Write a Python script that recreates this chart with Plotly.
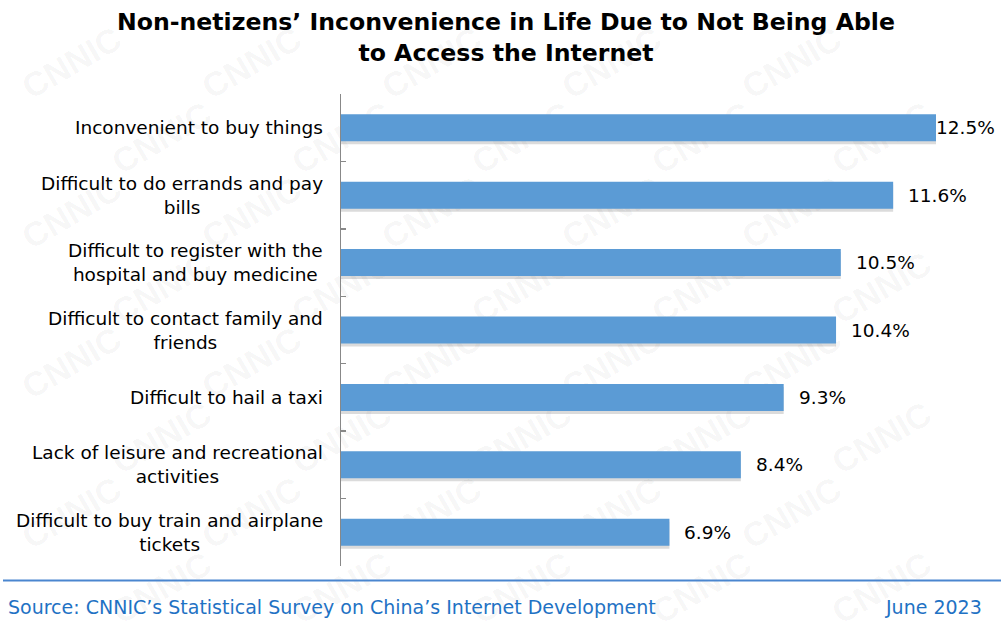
import plotly.graph_objects as go

categories = [
    "Inconvenient to buy things",
    "Difficult to do errands and pay<br>bills",
    "Difficult to register with the<br>hospital and buy medicine",
    "Difficult to contact family and<br>friends",
    "Difficult to hail a taxi",
    "Lack of leisure and recreational<br>activities",
    "Difficult to buy train and airplane<br>tickets",
]
values = [12.5, 11.6, 10.5, 10.4, 9.3, 8.4, 6.9]
value_labels = ["12.5%", "11.6%", "10.5%", "10.4%", "9.3%", "8.4%", "6.9%"]
title_text = "Non-netizens’ Inconvenience in Life Due to Not Being Able<br>to Access the Internet"
source_text = "Source: CNNIC’s Statistical Survey on China’s Internet Development"
date_text = "June 2023"

W, H = 1001, 635
L, R, T, B = 341, 20, 94, 69
PW, PH = W - L - R, H - T - B
FONT = "DejaVu Sans, Verdana, sans-serif"


def px(x):
    return (x - L) / PW


def py(y):
    return (H - B - y) / PH


ids = list(range(len(categories)))

fig = go.Figure()
# soft shadow
fig.add_trace(go.Bar(
    y=ids, x=values, orientation="h", width=0.4, offset=-0.2 + 3 / (PH / 7),
    marker=dict(color="rgba(0,0,0,0.14)", line=dict(width=0)),
    hoverinfo="skip", showlegend=False,
))
fig.add_trace(go.Bar(
    y=ids, x=values, orientation="h", width=0.4, offset=-0.2,
    marker=dict(color="#5b9bd5", line=dict(width=0)),
    showlegend=False,
))

annotations = []
for i, (c, v, lab) in enumerate(zip(categories, values, value_labels)):
    annotations.append(dict(
        x=px(325), xref="paper", y=i, yref="y", text=c, showarrow=False,
        xanchor="right", yanchor="middle", align="center",
        font=dict(family=FONT, size=18.5, color="#000000"),
    ))
    annotations.append(dict(
        x=v, xref="x", y=i, yref="y", text=lab, showarrow=False,
        xanchor="left", yanchor="middle",
        xshift=-2 if v == max(values) else 13,
        font=dict(family=FONT, size=18.5, color="#000000"),
    ))

annotations.append(dict(
    x=px(506), xref="paper", y=py(6), yref="paper", text="<b>" + title_text + "</b>",
    showarrow=False, xanchor="center", yanchor="top", align="center",
    font=dict(family=FONT, size=23.6, color="#000000"),
))

annotations.append(dict(
    x=px(6), xref="paper", y=py(607), yref="paper", text=source_text,
    showarrow=False, xanchor="left", yanchor="middle",
    font=dict(family=FONT, size=19, color="#1f72c4"),
))
annotations.append(dict(
    x=px(984), xref="paper", y=py(607), yref="paper", text=date_text,
    showarrow=False, xanchor="right", yanchor="middle",
    font=dict(family=FONT, size=19, color="#1f72c4"),
))

shapes = [dict(
    type="line", xref="paper", yref="paper",
    x0=px(3), x1=px(1001), y0=py(580.5), y1=py(580.5),
    line=dict(color="#4a86cf", width=2),
)]

# CNNIC watermark tiles (kept fully inside the canvas)
row = 0
for yy in range(60, 600, 75):
    off = (row % 2) * 90
    for xx in range(70 + off, 950, 180):
        shapes.append(dict(
            type="rect", xref="paper", yref="paper", layer="below",
            x0=px(xx - 5), x1=px(xx + 5), y0=py(yy + 5), y1=py(yy - 5),
            line=dict(width=0), fillcolor="rgba(0,0,0,0)",
            label=dict(text="<b>CNNIC</b>", textangle=-30,
                       font=dict(family="Liberation Sans, Arial, sans-serif", size=34,
                                 color="rgba(0,0,0,0.045)")),
        ))
    row += 1

fig.update_layout(
    width=W, height=H,
    margin=dict(l=L, r=R, t=T, b=B, pad=0),
    paper_bgcolor="white", plot_bgcolor="rgba(0,0,0,0)",
    barmode="overlay",
    hovermode=False,
    xaxis=dict(range=[0, PW / 47.6], visible=False, fixedrange=True),
    yaxis=dict(
        range=[len(categories) - 0.5, -0.5], tickmode="array",
        tickvals=[i - 0.5 for i in range(len(categories) + 1)],
        ticktext=[""] * (len(categories) + 1),
        ticks="inside", ticklen=5, tickcolor="#888888", tickwidth=1.5,
        showline=True, linecolor="#888888", linewidth=1.5,
        showgrid=False, zeroline=False, showticklabels=False, fixedrange=True,
    ),
    annotations=annotations,
    shapes=shapes,
    showlegend=False,
)

fig.write_html(
    "out.html",
    config={"displayModeBar": False, "staticPlot": True},
    post_script="document.body.style.margin='0';document.body.style.overflow='hidden';",
)
